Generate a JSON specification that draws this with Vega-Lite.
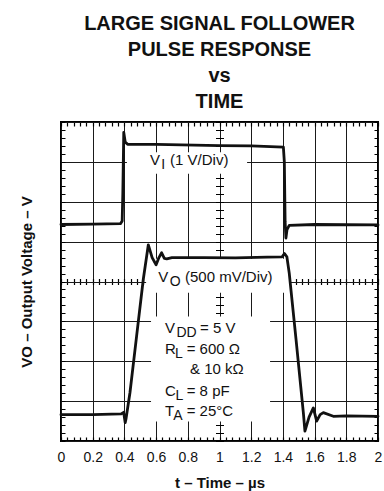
{
  "$schema": "https://vega.github.io/schema/vega-lite/v6.json",
  "width": 317,
  "height": 319,
  "autosize": {"type": "none"},
  "padding": {"left": 61, "top": 122, "right": 6, "bottom": 50},
  "background": "white",
  "config": {
    "view": {"stroke": "black", "strokeWidth": 2, "fill": "white"},
    "font": "Liberation Sans"
  },
  "title": {
    "text": ["LARGE SIGNAL FOLLOWER", "PULSE RESPONSE", "vs", "TIME"],
    "fontSize": 20,
    "fontWeight": "bold",
    "font": "Liberation Sans",
    "lineHeight": 26,
    "anchor": "middle",
    "offset": 10,
    "color": "#111111"
  },
  "datasets": {
    "boxes": [
      {"t1": 0.416, "t2": 1.174, "y1": 6.70, "y2": 7.24},
      {"t1": 0.537, "t2": 1.445, "y1": 3.72, "y2": 4.57},
      {"t1": 0.568, "t2": 1.319, "y1": 0.49, "y2": 3.12}
    ],
    "traces": [
      {"series": "VI", "t": 0, "v": 5.43},
      {"series": "VI", "t": 0.2, "v": 5.44},
      {"series": "VI", "t": 0.375, "v": 5.45},
      {"series": "VI", "t": 0.386, "v": 5.52},
      {"series": "VI", "t": 0.39, "v": 6.2},
      {"series": "VI", "t": 0.396, "v": 7.74},
      {"series": "VI", "t": 0.405, "v": 7.5},
      {"series": "VI", "t": 0.42, "v": 7.44},
      {"series": "VI", "t": 0.6, "v": 7.44},
      {"series": "VI", "t": 1.0, "v": 7.41},
      {"series": "VI", "t": 1.2, "v": 7.4},
      {"series": "VI", "t": 1.403, "v": 7.37},
      {"series": "VI", "t": 1.409, "v": 7.0},
      {"series": "VI", "t": 1.414, "v": 5.5},
      {"series": "VI", "t": 1.419, "v": 5.09},
      {"series": "VI", "t": 1.426, "v": 5.3},
      {"series": "VI", "t": 1.44, "v": 5.41},
      {"series": "VI", "t": 1.6, "v": 5.43},
      {"series": "VI", "t": 2.0, "v": 5.42},
      {"series": "VO", "t": 0, "v": 0.66},
      {"series": "VO", "t": 0.2, "v": 0.66},
      {"series": "VO", "t": 0.38, "v": 0.68},
      {"series": "VO", "t": 0.395, "v": 0.72},
      {"series": "VO", "t": 0.405, "v": 0.46},
      {"series": "VO", "t": 0.41, "v": 0.55},
      {"series": "VO", "t": 0.435, "v": 1.21},
      {"series": "VO", "t": 0.477, "v": 2.63},
      {"series": "VO", "t": 0.519, "v": 4.05},
      {"series": "VO", "t": 0.551, "v": 4.92},
      {"series": "VO", "t": 0.575, "v": 4.6},
      {"series": "VO", "t": 0.6, "v": 4.42},
      {"series": "VO", "t": 0.618, "v": 4.6},
      {"series": "VO", "t": 0.635, "v": 4.72},
      {"series": "VO", "t": 0.652, "v": 4.58},
      {"series": "VO", "t": 0.667, "v": 4.57},
      {"series": "VO", "t": 0.7, "v": 4.6},
      {"series": "VO", "t": 0.9, "v": 4.6},
      {"series": "VO", "t": 1.1, "v": 4.59},
      {"series": "VO", "t": 1.3, "v": 4.61},
      {"series": "VO", "t": 1.395, "v": 4.62},
      {"series": "VO", "t": 1.41, "v": 4.7},
      {"series": "VO", "t": 1.425, "v": 4.62},
      {"series": "VO", "t": 1.44, "v": 4.21},
      {"series": "VO", "t": 1.483, "v": 2.54},
      {"series": "VO", "t": 1.529, "v": 0.71},
      {"series": "VO", "t": 1.539, "v": 0.25},
      {"series": "VO", "t": 1.565, "v": 0.6},
      {"series": "VO", "t": 1.592, "v": 0.83},
      {"series": "VO", "t": 1.613, "v": 0.5},
      {"series": "VO", "t": 1.635, "v": 0.66},
      {"series": "VO", "t": 1.655, "v": 0.71},
      {"series": "VO", "t": 1.718, "v": 0.62},
      {"series": "VO", "t": 1.8, "v": 0.63},
      {"series": "VO", "t": 2.0, "v": 0.62}
    ],
    "labels": [
      {"t": 0.5615, "v": 6.91, "text": "V", "kind": "main"},
      {"t": 0.632, "v": 6.91, "text": "I", "kind": "sub"},
      {"t": 0.688, "v": 6.91, "text": "(1 V/Div)", "kind": "main"},
      {"t": 0.614, "v": 4.0, "text": "V", "kind": "main"},
      {"t": 0.686, "v": 4.0, "text": "O", "kind": "sub"},
      {"t": 0.782, "v": 4.0, "text": "(500 mV/Div)", "kind": "main"},
      {"t": 0.656, "v": 2.71, "text": "V", "kind": "main"},
      {"t": 0.728, "v": 2.71, "text": "DD", "kind": "sub"},
      {"t": 0.877, "v": 2.71, "text": "= 5 V", "kind": "main"},
      {"t": 0.656, "v": 2.19, "text": "R", "kind": "main"},
      {"t": 0.719, "v": 2.19, "text": "L", "kind": "sub"},
      {"t": 0.793, "v": 2.19, "text": "= 600 Ω", "kind": "main"},
      {"t": 0.814, "v": 1.69, "text": "& 10 kΩ", "kind": "main"},
      {"t": 0.656, "v": 1.12, "text": "C", "kind": "main"},
      {"t": 0.722, "v": 1.12, "text": "L", "kind": "sub"},
      {"t": 0.793, "v": 1.12, "text": "= 8 pF", "kind": "main"},
      {"t": 0.656, "v": 0.62, "text": "T", "kind": "main"},
      {"t": 0.708, "v": 0.62, "text": "A", "kind": "sub"},
      {"t": 0.793, "v": 0.62, "text": "= 25°C", "kind": "main"}
    ]
  },
  "layer": [
    {
      "data": {"name": "boxes"},
      "mark": {"type": "rect", "fill": "white", "strokeWidth": 0},
      "encoding": {
        "x": {
          "field": "t1", "type": "quantitative",
          "scale": {"domain": [0, 2], "nice": false, "zero": false},
          "axis": {
            "orient": "bottom",
            "values": [0, 0.2, 0.4, 0.6, 0.8, 1, 1.2, 1.4, 1.6, 1.8, 2],
            "format": "~g",
            "grid": true, "gridColor": "#1a1a1a", "gridWidth": 1, "gridOpacity": 1,
            "domain": false, "ticks": false, "tickSize": 0,
            "labelPadding": 9, "labelFontSize": 14, "labelColor": "#111111",
            "labelFont": "Liberation Sans", "labelFlush": false, "labelOverlap": false,
            "title": "t – Time – µs", "titleFontSize": 15, "titleFontWeight": "bold",
            "titleFont": "Liberation Sans", "titlePadding": 11, "titleColor": "#111111",
            "zindex": 0
          }
        },
        "x2": {"field": "t2"},
        "y": {
          "field": "y1", "type": "quantitative",
          "scale": {"domain": [0, 8], "nice": false, "zero": false},
          "axis": {
            "orient": "left",
            "values": [0, 1, 2, 3, 4, 5, 6, 7, 8],
            "grid": true, "gridColor": "#1a1a1a", "gridWidth": 1, "gridOpacity": 1,
            "domain": false, "ticks": false, "tickSize": 0, "labels": false,
            "title": "VO – Output Voltage – V", "titleFontSize": 15, "titleFontWeight": "bold",
            "titleFont": "Liberation Sans", "titlePadding": 27, "titleColor": "#111111",
            "zindex": 0
          }
        },
        "y2": {"field": "y2"}
      }
    },
    {
      "data": {"name": "traces"},
      "mark": {"type": "line", "stroke": "#111111", "strokeWidth": 2.8, "strokeJoin": "round", "strokeCap": "round"},
      "encoding": {
        "x": {
          "field": "t", "type": "quantitative",
          "axis": {
            "orient": "top",
            "values": [0,0.04,0.08,0.12,0.16,0.2,0.24,0.28,0.32,0.36,0.4,0.44,0.48,0.52,0.56,0.6,0.64,0.68,0.72,0.76,0.8,0.84,0.88,0.92,0.96,1,1.04,1.08,1.12,1.16,1.2,1.24,1.28,1.32,1.36,1.4,1.44,1.48,1.52,1.56,1.6,1.64,1.68,1.72,1.76,1.8,1.84,1.88,1.92,1.96,2],
            "grid": true, "gridColor": "#000000", "gridWidth": 1.2, "gridOpacity": 1,
            "gridDash": [4, 152.5, 6, 152.5, 4, 100],
            "labels": false, "domain": false, "ticks": false, "title": null, "zindex": 0
          }
        },
        "y": {
          "field": "v", "type": "quantitative",
          "axis": {
            "orient": "right",
            "values": [0,0.2,0.4,0.6,0.8,1,1.2,1.4,1.6,1.8,2,2.2,2.4,2.6,2.8,3,3.2,3.4,3.6,3.8,4,4.2,4.4,4.6,4.8,5,5.2,5.4,5.6,5.8,6,6.2,6.4,6.6,6.8,7,7.2,7.4,7.6,7.8,8],
            "grid": true, "gridColor": "#000000", "gridWidth": 1.2, "gridOpacity": 1,
            "gridDash": [4, 150.5, 8, 150.5, 4, 100],
            "labels": false, "domain": false, "ticks": false, "title": null, "zindex": 0
          }
        },
        "detail": {"field": "series", "type": "nominal"}
      }
    },
    {
      "data": {"name": "labels"},
      "transform": [{"filter": "datum.kind === 'main'"}],
      "mark": {"type": "text", "align": "left", "baseline": "alphabetic", "fontSize": 15, "font": "Liberation Sans", "color": "#111111"},
      "encoding": {
        "x": {"field": "t", "type": "quantitative", "axis": null},
        "y": {"field": "v", "type": "quantitative", "axis": null},
        "text": {"field": "text", "type": "nominal"}
      }
    },
    {
      "data": {"name": "labels"},
      "transform": [{"filter": "datum.kind === 'sub'"}],
      "mark": {"type": "text", "align": "left", "baseline": "alphabetic", "fontSize": 14, "dy": 4, "font": "Liberation Sans", "color": "#111111"},
      "encoding": {
        "x": {"field": "t", "type": "quantitative", "axis": null},
        "y": {"field": "v", "type": "quantitative", "axis": null},
        "text": {"field": "text", "type": "nominal"}
      }
    }
  ],
  "resolve": {"axis": {"x": "independent", "y": "independent"}}
}
